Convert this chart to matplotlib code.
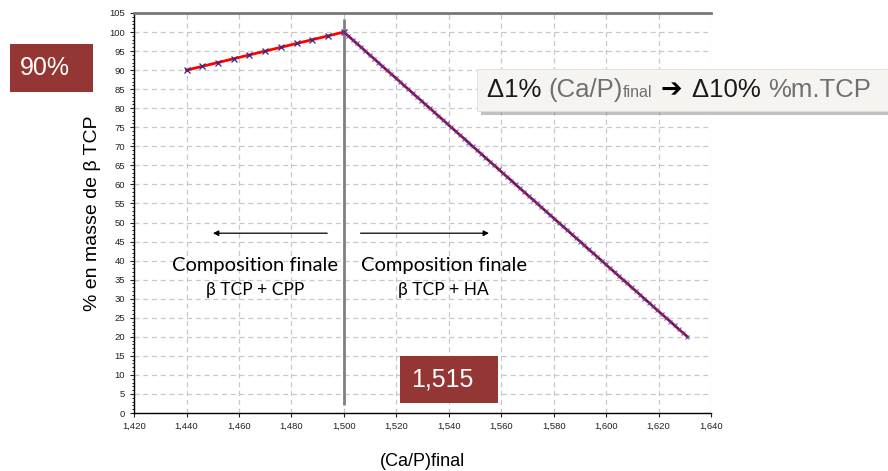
import numpy as np
import matplotlib
matplotlib.use("Agg")
import matplotlib.pyplot as plt
from matplotlib.patches import Rectangle
from matplotlib.ticker import MultipleLocator, FuncFormatter
from matplotlib.offsetbox import TextArea, HPacker, AnnotationBbox

plt.rcParams['font.family'] = ['Liberation Sans', 'DejaVu Sans']

# beta TCP + CPP side
x_cpp = [1.440, 1.446, 1.452, 1.458, 1.464, 1.470, 1.476, 1.482, 1.488, 1.494, 1.500]
y_cpp = [90, 91, 92, 93, 94, 95, 96, 97, 98, 99, 100]

# beta TCP + HA side
x_ha = [1.5000, 1.5016, 1.5033, 1.5049, 1.5066, 1.5082, 1.5098, 1.5115, 1.5131, 1.5147,
        1.5164, 1.5180, 1.5197, 1.5213, 1.5229, 1.5246, 1.5262, 1.5278, 1.5295, 1.5311,
        1.5328, 1.5344, 1.5360, 1.5377, 1.5393, 1.5409, 1.5426, 1.5442, 1.5459, 1.5475,
        1.5491, 1.5508, 1.5524, 1.5540, 1.5557, 1.5573, 1.5590, 1.5606, 1.5622, 1.5639,
        1.5655, 1.5671, 1.5688, 1.5704, 1.5721, 1.5737, 1.5753, 1.5770, 1.5786, 1.5802,
        1.5819, 1.5835, 1.5852, 1.5868, 1.5884, 1.5901, 1.5917, 1.5933, 1.5950, 1.5966,
        1.5983, 1.5999, 1.6015, 1.6032, 1.6048, 1.6064, 1.6081, 1.6097, 1.6114, 1.6130,
        1.6146, 1.6163, 1.6179, 1.6195, 1.6212, 1.6228, 1.6245, 1.6261, 1.6277, 1.6294,
        1.6310]
y_ha = [100, 99, 98, 97, 96, 95, 94, 93, 92, 91,
        90, 89, 88, 87, 86, 85, 84, 83, 82, 81,
        80, 79, 78, 77, 76, 75, 74, 73, 72, 71,
        70, 69, 68, 67, 66, 65, 64, 63, 62, 61,
        60, 59, 58, 57, 56, 55, 54, 53, 52, 51,
        50, 49, 48, 47, 46, 45, 44, 43, 42, 41,
        40, 39, 38, 37, 36, 35, 34, 33, 32, 31,
        30, 29, 28, 27, 26, 25, 24, 23, 22, 21,
        20]

fig = plt.figure(figsize=(8.88, 4.71), dpi=100)
ax = fig.add_axes([0.151, 0.1231, 0.6497, 0.8493])

ax.set_xlim(1.42, 1.64)
ax.set_ylim(0, 105)
ax.xaxis.set_major_locator(MultipleLocator(0.02))
ax.yaxis.set_major_locator(MultipleLocator(5))
ax.yaxis.set_minor_locator(MultipleLocator(1))
ax.xaxis.set_major_formatter(FuncFormatter(lambda v, p: f"{v:.3f}".replace(".", ",")))
ax.tick_params(axis='both', labelsize=6.8, length=3, width=0.8, colors='#222222')
ax.tick_params(axis='y', which='minor', length=1.5, width=0.6)
ax.grid(True, linestyle=(0, (4, 3)), color='#c8c8c8', linewidth=0.9)
ax.set_axisbelow(True)

for s in ['left', 'bottom']:
    ax.spines[s].set_color('black')
    ax.spines[s].set_linewidth(1.0)
ax.spines['right'].set_visible(False)
ax.spines['top'].set_color('#777777')
ax.spines['top'].set_linewidth(2)

ax.plot(x_cpp, y_cpp, color='red', lw=2, zorder=3)
ax.plot(x_ha, y_ha, color='red', lw=2, zorder=3)
ax.plot(x_ha, y_ha, color='#000080', lw=0.8, zorder=4)
ax.plot(x_cpp, y_cpp, ls='none', marker='x', ms=4, mew=0.9, color='#2a2a90', zorder=5)
ax.plot(x_ha, y_ha, ls='none', marker='x', ms=3.5, mew=0.8, color='#4a4ab0', alpha=0.85, zorder=5)

ax.vlines(1.5, 2, 103.5, color='#808080', lw=2, zorder=2)

ax.annotate('', xy=(1.4490, 47.2), xytext=(1.4947, 47.2),
            arrowprops=dict(arrowstyle='-|>', color='black', lw=0.9, mutation_scale=8))
ax.annotate('', xy=(1.5564, 47.2), xytext=(1.5053, 47.2),
            arrowprops=dict(arrowstyle='-|>', color='black', lw=0.9, mutation_scale=8))

cal = ['Lato', 'DejaVu Sans']
ax.text(1.4661, 38.6, 'Composition finale', ha='center', va='center', fontsize=14.5, family=cal)
ax.text(1.4661, 32.3, 'β TCP + CPP', ha='center', va='center', fontsize=12.5, family=cal)
ax.text(1.5381, 38.6, 'Composition finale', ha='center', va='center', fontsize=14.5, family=cal)
ax.text(1.5381, 32.3, 'β TCP + HA', ha='center', va='center', fontsize=12.5, family=cal)

ax.set_ylabel('% en masse de β TCP', fontsize=14, labelpad=6)
ax.set_xlabel('(Ca/P)final', fontsize=13, labelpad=16)

W, H = 888, 471
def px_rect(x0, y0, x1, y1, **kw):
    fig.patches.append(Rectangle((x0 / W, 1 - y1 / H), (x1 - x0) / W, (y1 - y0) / H,
                                 transform=fig.transFigure, **kw))

red = '#943634'
px_rect(10, 44, 93, 92, facecolor=red, edgecolor='none')
fig.text(45 / W, 1 - 68 / H, '90%', color='white', fontsize=18, ha='center', va='center')

px_rect(400, 356, 498, 403, facecolor=red, edgecolor='none')
fig.text(442 / W, 1 - 379.5 / H, '1,515', color='white', fontsize=18, ha='center', va='center')

px_rect(481, 73, 892, 115, facecolor='#9a9a9a', edgecolor='none', alpha=0.6)
px_rect(477, 69, 890, 111, facecolor='#f5f4f0', edgecolor='#e0ded8', lw=0.6)

dark = '#1a1a1a'
grey = '#707070'
fs = 18.5
parts = [
    TextArea('Δ1% ', textprops=dict(color=dark, fontsize=fs)),
    TextArea('(Ca/P)', textprops=dict(color=grey, fontsize=fs)),
    TextArea('final', textprops=dict(color=grey, fontsize=11.5)),
    TextArea(' ➔ ', textprops=dict(color='black', fontsize=fs, weight='bold', family=['DejaVu Sans'])),
    TextArea('Δ10% ', textprops=dict(color=dark, fontsize=fs)),
    TextArea('%m.TCP', textprops=dict(color=grey, fontsize=fs)),
]
box = HPacker(children=parts, align='baseline', pad=0, sep=0)
ab = AnnotationBbox(box, (487, H - 90), xycoords='figure pixels', box_alignment=(0, 0.5),
                    frameon=False)
fig.add_artist(ab)

fig.savefig('out.png', dpi=100)
